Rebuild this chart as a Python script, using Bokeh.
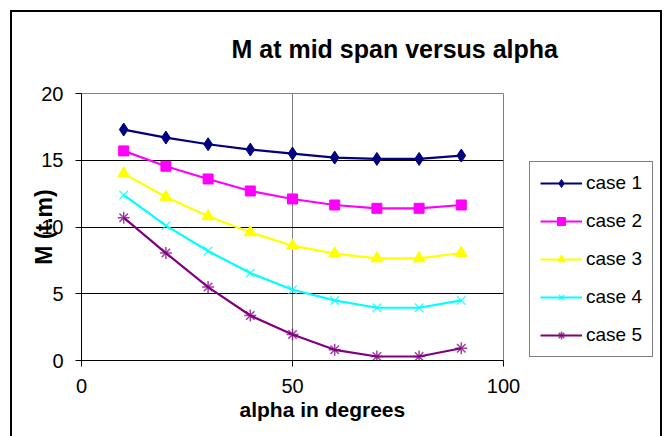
from bokeh.plotting import figure
from bokeh.models import Legend, LegendItem, Title, FixedTicker, Range1d
from bokeh.embed import file_html
from bokeh.resources import INLINE

# ---- data ----
alpha = [10, 20, 30, 40, 50, 60, 70, 80, 90]
case1 = [17.3, 16.7, 16.2, 15.8, 15.5, 15.2, 15.1, 15.1, 15.35]
case2 = [15.7, 14.55, 13.6, 12.7, 12.1, 11.65, 11.4, 11.4, 11.65]
case3 = [14.0, 12.25, 10.8, 9.6, 8.6, 8.0, 7.65, 7.65, 8.05]
case4 = [12.4, 10.1, 8.2, 6.55, 5.3, 4.5, 3.95, 3.95, 4.5]
case5 = [10.7, 8.05, 5.5, 3.37, 1.95, 0.8, 0.3, 0.3, 0.92]
series_names = ["case 1", "case 2", "case 3", "case 4", "case 5"]
x_ticks = [0, 50, 100]
y_ticks = [0, 5, 10, 15, 20]
title_text = "M at mid span versus alpha"
x_title = "alpha in degrees"
y_title = "M (t.m)"

# ---- styles ----
colors = ["#000080", "#FF00FF", "#FFFF00", "#00FFFF", "#800080"]
markers = ["diamond", "square", "triangle", "x", "asterisk"]
msizes = [13, 10, 12, 12, 12]
FONT = "Liberation Sans"

p = figure(frame_width=422, frame_height=267, output_backend="svg",
           toolbar_location=None,
           x_range=Range1d(0, 100), y_range=Range1d(0, 20),
           min_border_left=81, min_border_right=164, min_border_top=93,
           min_border_bottom=76)
p.border_fill_color = None
p.background_fill_color = "white"
p.outline_line_color = "#808080"
p.outline_line_width = 1
p.styles = {
    "background": (
        "linear-gradient(#000,#000) 10px 10px / 2px 450px no-repeat, "
        "linear-gradient(#000,#000) 10px 10px / 652px 2px no-repeat, "
        "linear-gradient(#000,#000) 660px 10px / 2px 450px no-repeat, #ffffff"
    )
}

# title
p.title.text = title_text
p.title.text_font = FONT
p.title.text_font_size = "25px"
p.title.text_font_style = "bold"
p.title.text_color = "black"
p.title.align = "left"
p.title.offset = 150
p.title.standoff = 62

# axes
for ax in (p.xaxis[0], p.yaxis[0]):
    ax.axis_line_color = "black"
    ax.axis_line_width = 1
    ax.major_tick_line_color = "black"
    ax.major_tick_out = 6
    ax.major_tick_in = 0
    ax.minor_tick_line_color = None
    ax.major_label_text_font = FONT
    ax.major_label_text_font_size = "20px"
    ax.major_label_text_color = "black"
    ax.major_label_standoff = 12
p.xaxis.ticker = FixedTicker(ticks=x_ticks)
p.yaxis.ticker = FixedTicker(ticks=y_ticks)

# y axis title (overlapping the tick labels, as in the reference)
p.yaxis.axis_label = y_title
p.yaxis.axis_label_text_font = FONT
p.yaxis.axis_label_text_font_size = "23px"
p.yaxis.axis_label_text_font_style = "bold"
p.yaxis.axis_label_text_color = "black"
p.yaxis.axis_label_standoff = -19

# x axis title, shifted right as in the reference
xt = Title(text=x_title, align="left", offset=158, text_font=FONT,
           text_font_size="21px", text_font_style="bold", text_color="black",
           standoff=0)
p.add_layout(xt, "below")

# grid
p.ygrid.ticker = FixedTicker(ticks=[t for t in y_ticks if 0 < t < 20])
p.ygrid.grid_line_color = "black"
p.ygrid.grid_line_width = 1
p.xgrid.ticker = FixedTicker(ticks=[t for t in x_ticks if 0 < t < 100])
p.xgrid.grid_line_color = "#808080"
p.xgrid.grid_line_width = 1

# series
all_series = [case1, case2, case3, case4, case5]
items = []
for name, ys, c, m, s in zip(series_names, all_series, colors, markers, msizes):
    r1 = p.line(alpha, ys, line_color=c, line_width=2.2)
    if m in ("x", "asterisk"):
        r2 = p.scatter(alpha, ys, marker=m, size=s, line_color=c, line_width=1.5,
                       line_alpha=0.75)
    else:
        r2 = p.scatter(alpha, ys, marker=m, size=s, fill_color=c, line_color=c)
    items.append(LegendItem(label=name, renderers=[r1, r2]))

legend = Legend(items=items, location=(26, 3))
legend.label_text_font = FONT
legend.label_text_font_size = "19px"
legend.label_text_color = "black"
legend.glyph_width = 42
legend.glyph_height = 20
legend.label_height = 20
legend.label_standoff = 4
legend.spacing = 16
legend.padding = 10
legend.margin = 0
legend.border_line_color = "black"
legend.border_line_width = 1
legend.background_fill_color = "white"
legend.background_fill_alpha = 1
p.add_layout(legend, "right")

open("out.html", "w").write(file_html(p, INLINE))
